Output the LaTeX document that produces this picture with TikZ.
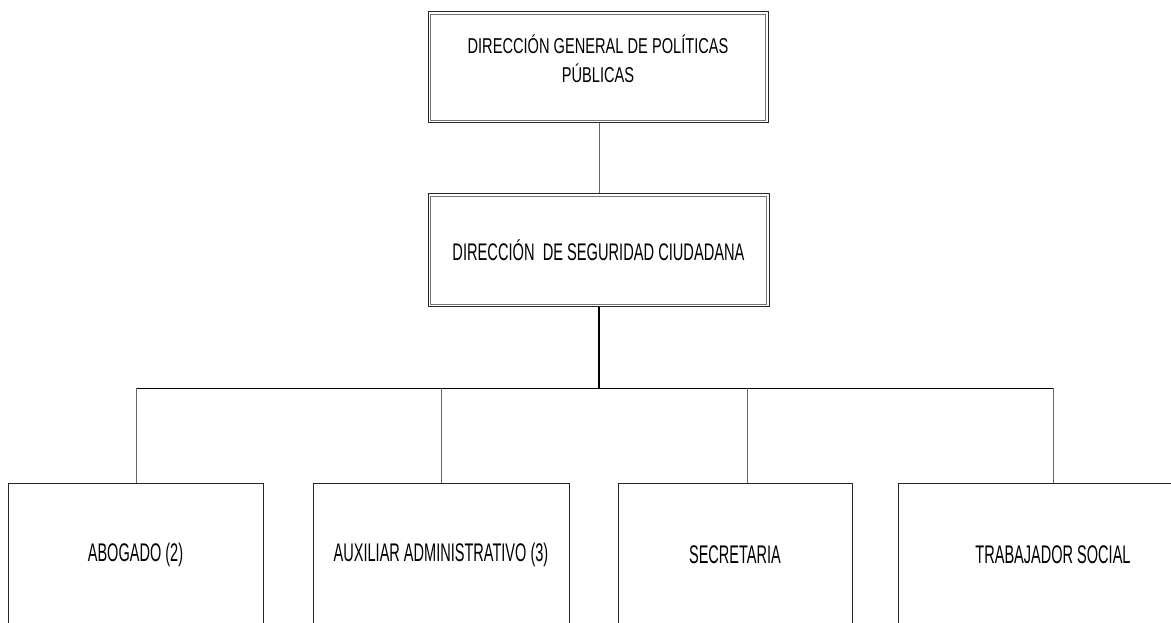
\documentclass[tikz,border=0pt]{standalone}
\usepackage{fontspec}
\setmainfont{Liberation Sans}
\newfontfamily\fonthead{Liberation Sans}[FakeStretch=0.68]
\newfontfamily\fontsub{Liberation Sans}[FakeStretch=0.61]
\newfontfamily\fontunit{Liberation Sans}[FakeStretch=0.57]
\begin{document}
\begin{tikzpicture}[x=1pt,y=-1pt,
  headbox/.style={draw=black!85, line width=1pt, inner sep=0pt, align=center},
  innerframe/.style={draw=black!55, line width=0.7pt},
  unitbox/.style={draw=black!85, line width=0.8pt, inner sep=0pt, align=center,
    minimum height=144pt, font=\fontunit\fontsize{25.5}{30}\selectfont},
  link/.style={draw=black!60, line width=0.9pt},
  mainlink/.style={draw=black, line width=1.4pt}]
\useasboundingbox (0,0) rectangle (1171,623);
\node[headbox, minimum width=340pt, minimum height=111pt,
  font=\fonthead\fontsize{21.5}{29}\selectfont] (dg) at (598,67.5)
  {DIRECCIÓN GENERAL DE POLÍTICAS\\PÚBLICAS\\[-12pt]};
\draw[innerframe] ([shift={(3,3)}]dg.north west) rectangle ([shift={(-3,-3)}]dg.south east);
\node[headbox, minimum width=341pt, minimum height=113pt,
  font=\fontsub\fontsize{24}{29}\selectfont] (ds) at (598.5,250)
  {DIRECCIÓN\ \ DE SEGURIDAD CIUDADANA};
\draw[innerframe] ([shift={(3,3)}]ds.north west) rectangle ([shift={(-3,-3)}]ds.south east);
\node[unitbox, minimum width=255pt] (ab) at (135.5,555) {ABOGADO (2)};
\node[unitbox, minimum width=256pt] (aux) at (441,555) {AUXILIAR ADMINISTRATIVO (3)};
\node[unitbox, minimum width=234pt] (sec) at (735,555) {SECRETARIA};
\node[unitbox, minimum width=310pt] (ts) at (1053,555) {TRABAJADOR SOCIAL};
\coordinate (bar) at (599,388);
\coordinate (barL) at (136,388);
\coordinate (barR) at (1053,388);
\coordinate (c2) at (441,388);
\coordinate (c3) at (747,388);
\draw[link] (dg.south -| bar) -- (ds.north -| bar);
\draw[mainlink] (ds.south -| bar) -- (bar);
\draw[draw=black, line width=1pt] (barL) -- (barR);
\draw[link] (barL) -- (ab.north -| barL);
\draw[link] (c2) -- (aux.north -| c2);
\draw[link] (c3) -- (sec.north -| c3);
\draw[link] (barR) -- (ts.north -| barR);
\end{tikzpicture}
\end{document}
